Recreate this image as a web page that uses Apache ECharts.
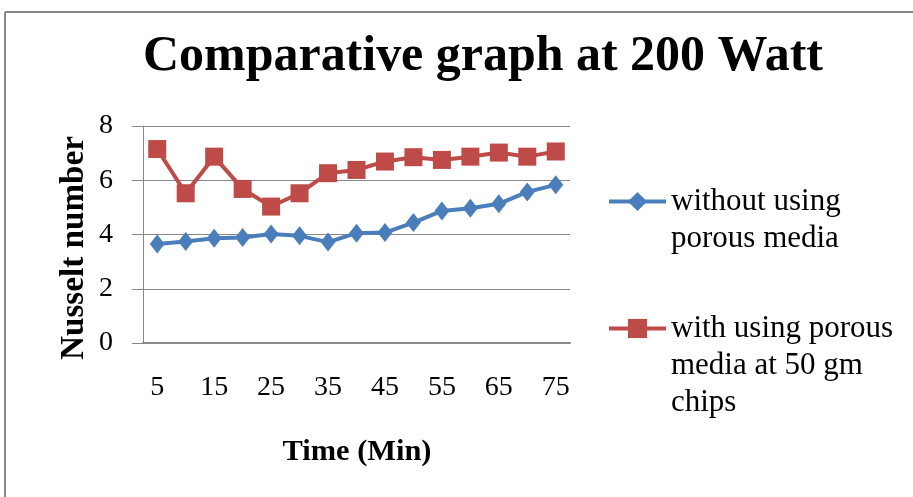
<!DOCTYPE html>
<html>
<head>
<meta charset="utf-8">
<script src="https://cdn.jsdelivr.net/npm/echarts@6/dist/echarts.min.js"></script>
<style>
html,body{margin:0;padding:0;background:#fff;}
#chart{width:913px;height:497px;}
</style>
</head>
<body>
<div id="chart"></div>
<script>
// ---- data ----
var categories = ['5','10','15','20','25','30','35','40','45','50','55','60','65','70','75'];
var withoutPorous = [3.65, 3.74, 3.86, 3.89, 4.02, 3.95, 3.72, 4.05, 4.07, 4.44, 4.87, 4.97, 5.13, 5.57, 5.83];
var withPorous = [7.15, 5.52, 6.87, 5.68, 5.03, 5.52, 6.26, 6.38, 6.69, 6.85, 6.75, 6.87, 7.02, 6.87, 7.06];
var yTicks = [0, 2, 4, 6, 8];
var seriesNames = ['without using\nporous media', 'with using porous\nmedia at 50 gm\nchips'];
var titleText = 'Comparative graph at 200 Watt';
var xName = 'Time (Min)';
var yName = 'Nusselt number';

// ---- styling ----
var FONT = '"Liberation Serif", "Times New Roman", serif';
var titleFont = 'bold 51px ' + FONT;
var cv = document.createElement('canvas').getContext('2d');
cv.font = titleFont;
var titleScale = 680 / cv.measureText(titleText).width;
var yNameFont = 'bold 33px ' + FONT;
cv.font = yNameFont;
var yNameScale = 224 / cv.measureText(yName).width;
var xNameFont = 'bold 30px ' + FONT;
cv.font = xNameFont;
var xNameScale = 149 / cv.measureText(xName).width;

// put the legend's first text line level with the icon
function legendFmt(name) {
  var n = name.split('\n').length;
  return new Array(n).join('\n') + name;
}

var legendBase = {
  left: 602, orient: 'vertical', itemWidth: 57, itemHeight: 24, padding: 5,
  formatter: legendFmt,
  lineStyle: {width: 4},
  textStyle: {fontFamily: FONT, fontSize: 31, color: '#000', lineHeight: 37}
};

var chart = echarts.init(document.getElementById('chart'), null, {renderer: 'canvas'});
var option = {
  backgroundColor: '#ffffff',
  animation: false,
  graphic: [
    {type: 'line', shape: {x1: 5, y1: 12, x2: 913, y2: 12}, style: {stroke: '#888888', lineWidth: 2}},
    {type: 'line', shape: {x1: 5, y1: 12, x2: 5, y2: 497}, style: {stroke: '#888888', lineWidth: 2}},
    {type: 'text', x: 483, y: 82, scaleX: titleScale,
      style: {text: titleText, font: titleFont, fill: '#000', textAlign: 'center', textVerticalAlign: 'bottom'}},
    {type: 'text', x: 74, y: 248, rotation: Math.PI / 2, scaleX: yNameScale,
      style: {text: yName, font: yNameFont, fill: '#000', textAlign: 'center', textVerticalAlign: 'middle'}},
    {type: 'text', x: 357, y: 452, scaleX: xNameScale,
      style: {text: xName, font: xNameFont, fill: '#000', textAlign: 'center', textVerticalAlign: 'middle'}}
  ],
  legend: [
    Object.assign({data: [seriesNames[0]], top: 141}, legendBase),
    Object.assign({data: [seriesNames[1]], top: 231}, legendBase)
  ],
  grid: {left: 143, top: 126, width: 427, height: 217, containLabel: false},
  xAxis: {
    type: 'category',
    data: categories,
    boundaryGap: true,
    axisLine: {show: true, lineStyle: {color: '#888888', width: 2}},
    axisTick: {show: false},
    axisLabel: {interval: 1, margin: 31, fontFamily: FONT, fontSize: 28, color: '#000'},
    splitLine: {show: false}
  },
  yAxis: {
    type: 'value',
    min: yTicks[0],
    max: yTicks[yTicks.length - 1],
    interval: yTicks[1] - yTicks[0],
    axisLine: {show: true, lineStyle: {color: '#888888', width: 1}},
    axisTick: {show: true, length: 11, lineStyle: {color: '#888888', width: 1}},
    axisLabel: {margin: 30, fontFamily: FONT, fontSize: 28, color: '#000'},
    splitLine: {show: true, lineStyle: {color: '#888888', width: 1}}
  },
  series: [
    {
      name: seriesNames[0], type: 'line', data: withoutPorous,
      symbol: 'diamond', symbolSize: [15, 19], showAllSymbol: true,
      itemStyle: {color: '#4A7EBB'},
      lineStyle: {color: '#4A7EBB', width: 4}
    },
    {
      name: seriesNames[1], type: 'line', data: withPorous,
      symbol: 'rect', symbolSize: 18, showAllSymbol: true,
      itemStyle: {color: '#BE4B48'},
      lineStyle: {color: '#BE4B48', width: 4}
    }
  ]
};
chart.setOption(option);
</script>
</body>
</html>
